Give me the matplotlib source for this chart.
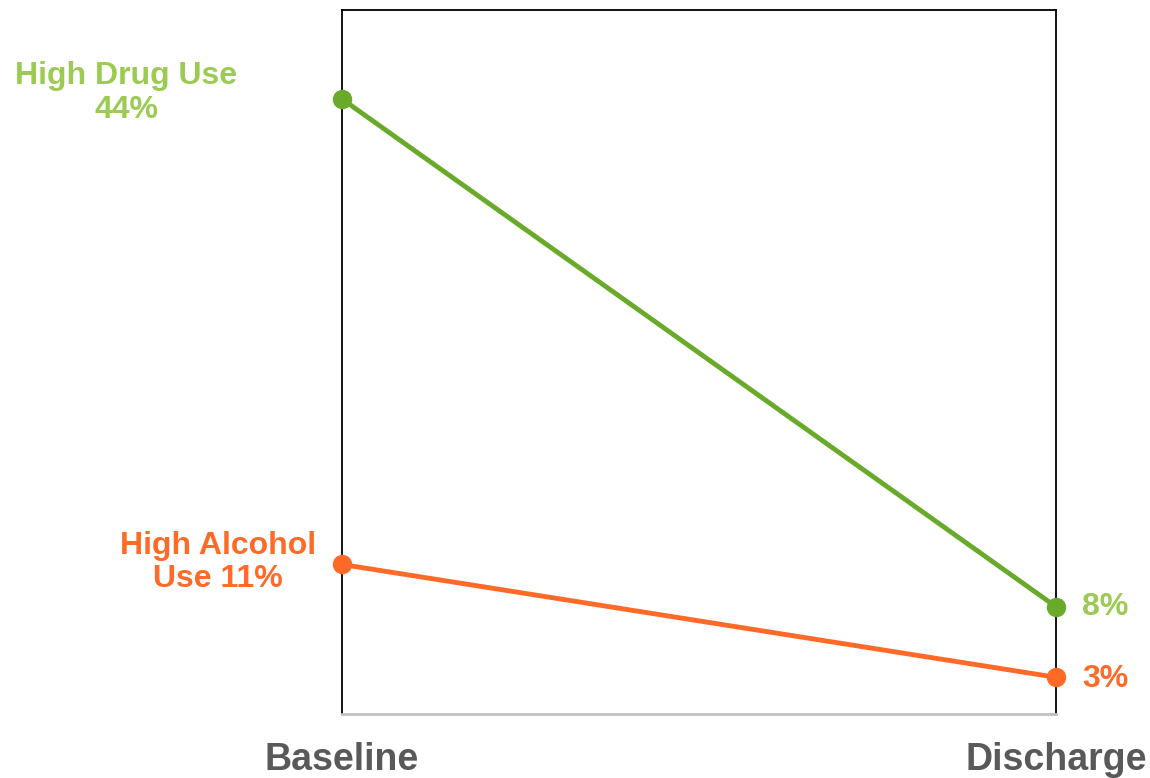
import matplotlib.pyplot as plt

stages = ['Baseline', 'Discharge']
drug_use = [44, 8]
alcohol_use = [11, 3]

plt.rcParams['font.family'] = ['Liberation Sans', 'DejaVu Sans']

fig = plt.figure(figsize=(11.5, 7.78), dpi=100)
ax = fig.add_axes([0.2974, 0.0823, 0.6209, 0.9047])

green = '#69aa2a'
green_txt = '#9bcb52'
orange = '#ff6a28'

x = [0, 1]
ax.plot(x, drug_use, color=green, lw=3.5, marker='o', ms=13, clip_on=False, zorder=3)
ax.plot(x, alcohol_use, color=orange, lw=3.5, marker='o', ms=13, clip_on=False, zorder=3)

ax.set_xlim(0, 1)
ax.set_ylim(0.4, 50.3)

ax.set_xticks(x)
ax.set_xticklabels(stages, fontsize=27, fontweight='bold', color='#595959')
ax.tick_params(axis='x', length=0, pad=20)
ax.set_yticks([])

for s in ['left', 'right', 'top']:
    ax.spines[s].set_linewidth(1.3)
    ax.spines[s].set_color('black')
ax.spines['bottom'].set_color('#bfbfbf')
ax.spines['bottom'].set_linewidth(2)

ax.annotate('High Drug Use\n44%', xy=(0, drug_use[0]), xytext=(-216, 6), textcoords='offset pixels',
            ha='center', va='center', fontsize=23, fontweight='bold', color=green_txt, linespacing=1.15)
ax.annotate('High Alcohol\nUse 11%', xy=(0, alcohol_use[0]), xytext=(-124, 2), textcoords='offset pixels',
            ha='center', va='center', fontsize=23, fontweight='bold', color=orange, linespacing=1.15)
ax.annotate('8%', xy=(1, drug_use[1]), xytext=(26, 0), textcoords='offset pixels',
            ha='left', va='center', fontsize=23, fontweight='bold', color=green_txt)
ax.annotate('3%', xy=(1, alcohol_use[1]), xytext=(26, -2), textcoords='offset pixels',
            ha='left', va='center', fontsize=23, fontweight='bold', color=orange)

fig.savefig('out.png', dpi=100)
